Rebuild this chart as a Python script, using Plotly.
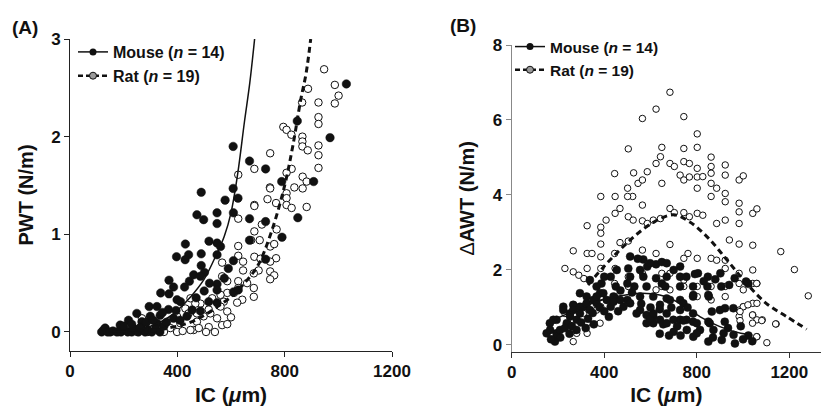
import plotly.graph_objects as go

# ---------------- Panel A : PWT vs IC ----------------
mouse_a_x = [1030, 847, 969, 608, 669, 729, 489, 608, 578, 626, 789, 908, 473, 498, 548, 548, 609, 669, 729, 849,
             790, 669, 518, 548, 561, 430, 397, 442, 489, 429, 548, 609, 729, 489, 461, 501, 486, 445, 369, 386,
             427, 548, 548, 609, 627, 338, 369, 399, 412, 295, 324, 367, 486, 517, 548, 455, 218, 187, 268, 299,
             336, 249, 324, 386, 436, 118, 125, 131, 140, 150, 160, 175, 190, 200, 215, 230, 240, 255, 265, 280,
             290, 305, 320, 335, 350, 200, 230, 260, 285, 310, 345, 360, 395, 410, 470, 500, 520, 575, 590]
mouse_a_y = [2.54, 2.16, 1.99, 1.90, 1.75, 1.67, 1.43, 1.47, 1.35, 1.37, 1.54, 1.54, 1.20, 1.15, 1.22, 1.11, 1.22, 1.16, 1.13, 1.17,
             0.97, 0.94, 0.93, 0.91, 0.875, 0.90, 0.77, 0.79, 0.80, 0.74, 0.79, 0.73, 0.745, 0.68, 0.585, 0.61, 0.57, 0.52, 0.53, 0.46,
             0.46, 0.49, 0.43, 0.41, 0.43, 0.40, 0.39, 0.33, 0.31, 0.26, 0.26, 0.23, 0.215, 0.31, 0.30, 0.225, 0.12, 0.07, 0.105, 0.16,
             0.17, 0.19, 0.09, 0.14, 0.16, 0.0, 0.02, 0.04, 0.0, 0.0, 0.01, 0.0, 0.0, 0.02, 0.0, 0.0, 0.03, 0.0, 0.05, 0.0,
             0.02, 0.0, 0.03, 0.0, 0.06, 0.06, 0.08, 0.04, 0.10, 0.12, 0.20, 0.10, 0.22, 0.12, 0.35, 0.42, 0.50, 0.55, 0.65]

rat_a_x = [947, 987, 1001, 987, 926, 887, 865, 926, 926, 795, 807, 825, 866, 866, 866, 886, 926, 926, 926, 746,
           687, 627, 826, 807, 867, 882, 867, 836, 745, 736, 807, 807, 768, 807, 687, 882, 826, 746, 687, 627,
           687, 675, 707, 746, 761, 627, 627, 687, 645, 768, 746, 567, 645, 703, 746, 761, 746, 685, 567, 586,
           627, 685, 685, 627, 611, 586, 642, 623, 573, 561, 586, 548, 567, 586, 517, 507, 461, 473, 523, 530,
           561, 486, 449, 467, 430, 442, 399, 411, 374, 336, 268, 231, 305, 449, 498, 517, 473, 324, 206, 399,
           180, 250, 290, 350, 420, 480, 540, 600, 660, 710, 715, 770]
rat_a_y = [2.69, 2.53, 2.42, 2.34, 2.35, 2.49, 2.35, 2.20, 2.13, 2.10, 2.07, 2.02, 2.00, 1.95, 1.90, 1.86, 1.91, 1.81, 1.68, 1.83,
           1.67, 1.61, 1.67, 1.63, 1.59, 1.54, 1.47, 1.48, 1.48, 1.36, 1.42, 1.37, 1.32, 1.30, 1.30, 1.28, 1.27, 1.47, 1.29, 1.16,
           1.03, 0.94, 0.94, 0.875, 0.90, 0.88, 0.78, 0.77, 0.72, 0.755, 0.72, 0.71, 0.63, 0.63, 0.62, 0.58, 0.54, 0.60, 0.57, 0.52,
           0.52, 0.45, 0.36, 0.45, 0.40, 0.40, 0.33, 0.30, 0.31, 0.26, 0.21, 0.14, 0.07, 0.08, 0.05, 0.0, 0.02, 0.105, 0.19, 0.345,
           0.38, 0.29, 0.345, 0.29, 0.24, 0.19, 0.16, 0.09, 0.04, 0.02, 0.14, 0.055, 0.02, 0.02, 0.16, 0.23, 0.19, 0.05, 0.02, 0.0,
           0.0, 0.0, 0.0, 0.0, 0.01, 0.04, 0.0, 0.15, 0.50, 0.75, 1.10, 1.05]

fit_mouse_a_x = [150, 250, 300, 350, 400, 450, 500, 550, 575, 600, 625, 650, 670, 688]
fit_mouse_a_y = [0.0, 0.02, 0.06, 0.12, 0.22, 0.36, 0.54, 0.82, 0.98, 1.22, 1.62, 2.15, 2.55, 3.0]
fit_rat_a_x = [300, 400, 450, 500, 550, 600, 650, 700, 750, 800, 830, 860, 880, 897]
fit_rat_a_y = [0.01, 0.06, 0.10, 0.17, 0.26, 0.36, 0.50, 0.68, 1.02, 1.50, 1.90, 2.38, 2.65, 3.0]

# ---------------- Panel B : dAWT vs IC ----------------
mouse_b_x = [512, 569, 586, 624, 649, 728, 454, 504, 428, 388, 400, 450, 500, 530, 569, 583, 624, 649, 670, 728,
             755, 805, 848, 902, 964, 1013, 906, 846, 784, 728, 664, 852, 784, 728, 670, 612, 555, 500, 440, 382,
             324, 295, 367, 338, 428, 367, 310, 266, 223, 252, 295, 555, 583, 612, 670, 728, 784, 900, 958, 728,
             784, 856, 921, 612, 641, 583, 194, 165, 151, 194, 180, 166, 194, 187, 223, 238, 252, 266, 281, 209,
             295, 324, 338, 353, 367, 396, 411, 440, 469, 483, 512, 540, 598, 612, 655, 670, 699, 715, 756, 641,
             684, 742, 512, 555, 598, 545, 670, 700, 792, 830, 880, 940, 1023, 785, 850, 760, 865, 922, 742, 800,
             850, 935, 757, 814, 872, 916, 959, 1023, 785, 850, 908, 965, 800, 870, 230, 260, 300, 330, 350, 400,
             420, 460, 250, 280, 210, 170, 320, 355, 380, 470, 520, 560, 600, 640, 690, 700, 730, 680, 640, 990,
             1000, 1040]
mouse_b_y = [2.36, 2.28, 2.09, 2.15, 2.21, 2.09, 2.00, 2.04, 1.82, 1.64, 1.82, 1.56, 1.64, 1.56, 1.82, 1.56, 1.78, 1.64, 1.82, 1.82,
             1.82, 1.91, 1.82, 1.91, 1.78, 1.69, 1.56, 1.56, 1.56, 1.56, 1.56, 1.29, 1.29, 1.20, 1.24, 1.29, 1.29, 1.20, 1.29, 1.38,
             1.29, 1.38, 1.56, 1.73, 1.02, 1.11, 1.02, 1.07, 1.02, 0.84, 0.84, 0.93, 0.80, 0.76, 0.84, 0.93, 0.84, 0.93, 0.98, 0.67,
             0.62, 0.58, 0.62, 0.58, 0.67, 0.58, 0.67, 0.58, 0.31, 0.31, 0.67, 0.40, 0.22, 0.09, 0.93, 0.58, 0.76, 0.93, 0.67, 0.40,
             1.02, 1.11, 0.93, 1.20, 1.29, 1.38, 1.20, 1.15, 1.20, 1.02, 1.11, 0.84, 0.70, 0.84, 0.55, 0.58, 0.67, 0.50, 0.67, 1.07,
             1.20, 1.11, 1.82, 2.00, 2.18, 2.30, 2.18, 2.00, 1.89, 1.70, 1.75, 1.60, 1.63, 1.33, 1.33, 1.00, 0.89, 0.98, 0.65, 0.58,
             0.62, 0.45, 0.40, 0.40, 0.40, 0.31, 0.27, 0.25, 0.22, 0.09, 0.13, 0.04, 0.31, 0.20, 0.45, 0.50, 0.60, 0.70, 0.85, 0.90,
             0.75, 0.90, 0.30, 0.40, 0.20, 0.15, 0.45, 0.55, 1.00, 1.45, 1.40, 1.10, 1.00, 0.95, 1.00, 0.35, 0.25, 0.25, 0.30, 0.50,
             0.15, 0.10]

rat_b_x = [684, 624, 565, 744, 802, 504, 649, 744, 802, 862, 643, 624, 586, 546, 565, 445, 527, 649, 684, 703,
           744, 768, 728, 744, 768, 802, 802, 826, 802, 862, 862, 862, 862, 886, 923, 923, 923, 923, 983, 1001,
           983, 983, 1042, 1060, 983, 923, 886, 1042, 983, 941, 1163, 1222, 1282, 1143, 447, 501, 523, 501, 468, 504,
           525, 447, 408, 385, 326, 385, 565, 565, 586, 612, 643, 684, 703, 744, 768, 802, 826, 684, 565, 504,
           468, 445, 385, 385, 266, 326, 347, 230, 326, 266, 290, 312, 385, 385, 447, 624, 744, 762, 802, 862,
           886, 923, 923, 983, 1042, 1042, 1060, 983, 1042, 1001, 1042, 1060, 1083, 1060, 983, 983, 802, 802, 862, 862,
           923, 923, 744, 744, 684, 649, 624, 649, 684, 565, 504, 504, 445, 445, 385, 385, 326, 326, 266, 266,
           326, 281, 230, 1103, 1059, 1041, 1081, 1141, 1001, 1021, 1060, 1041, 987, 987, 1059, 1001, 266, 266, 382, 367,
           310]
rat_b_y = [6.74, 6.29, 6.04, 6.09, 5.63, 5.23, 5.27, 5.24, 5.27, 5.01, 5.02, 4.84, 4.62, 4.31, 4.40, 4.57, 4.59, 4.31, 4.84, 4.76,
           4.89, 4.84, 4.53, 4.40, 4.48, 4.71, 4.48, 4.49, 4.18, 4.76, 4.58, 4.31, 3.96, 4.18, 4.80, 4.53, 4.04, 3.82, 4.40, 4.51,
           3.78, 3.55, 3.51, 3.63, 3.24, 3.33, 3.24, 2.66, 2.69, 2.80, 2.49, 2.01, 1.31, 0.56, 3.96, 4.18, 3.96, 3.96, 3.64, 3.42,
           3.33, 3.51, 3.33, 3.14, 3.18, 3.96, 3.73, 3.31, 3.24, 3.33, 3.37, 3.64, 3.53, 3.53, 3.42, 3.51, 3.46, 2.68, 2.53, 2.77,
           2.73, 2.44, 2.98, 2.69, 2.51, 2.44, 2.44, 2.04, 2.04, 1.95, 1.86, 1.77, 2.35, 2.04, 2.04, 2.44, 2.31, 2.44, 2.31, 2.31,
           2.26, 2.26, 2.04, 1.91, 2.00, 1.64, 1.64, 1.64, 1.11, 1.02, 0.80, 0.67, 0.67, 0.22, 0.93, 0.76, 1.56, 1.29, 1.56, 1.20,
           1.56, 1.29, 1.73, 1.56, 1.47, 1.56, 1.47, 1.91, 1.91, 1.91, 1.82, 1.56, 1.64, 1.29, 1.29, 1.02, 1.02, 0.58, 1.07, 0.67,
           0.31, 0.31, 0.84, 0.06, 0.22, 0.58, 0.65, 0.56, 1.02, 1.07, 1.11, 0.80, 0.89, 0.65, 1.64, 1.47, 0.09, 0.38, 0.58, 0.93,
           0.84]

fit_mouse_b_x = [150, 200, 280, 370, 470, 555, 640, 730, 815, 900, 990, 1040]
fit_mouse_b_y = [0.55, 0.72, 0.93, 1.16, 1.31, 1.38, 1.33, 1.10, 0.75, 0.49, 0.31, 0.27]
fit_rat_b_x = [330, 400, 470, 540, 620, 700, 770, 850, 930, 1010, 1100, 1190, 1275]
fit_rat_b_y = [1.60, 2.10, 2.55, 2.95, 3.30, 3.47, 3.28, 2.85, 2.27, 1.68, 1.11, 0.75, 0.42]

xticks = [0, 400, 800, 1200]
yticks_a = [0, 1, 2, 3]
yticks_b = [0, 2, 4, 6, 8]

INK = "#111111"
FONT = "Liberation Sans, Arial, sans-serif"

fig = go.Figure()


def add_panel(xa, ya, leg, mx, my, rx, ry, fmx, fmy, frx, fry, fsize, osize):
    fig.add_trace(go.Scatter(x=rx, y=ry, mode="markers", xaxis=xa, yaxis=ya, showlegend=False,
                             marker=dict(symbol="circle", size=osize, color="white",
                                         line=dict(color=INK, width=1))))
    fig.add_trace(go.Scatter(x=mx, y=my, mode="markers", xaxis=xa, yaxis=ya, showlegend=False,
                             marker=dict(symbol="circle", size=fsize, color=INK,
                                         line=dict(color=INK, width=0.5))))
    fig.add_trace(go.Scatter(x=fmx, y=fmy, mode="lines", xaxis=xa, yaxis=ya, showlegend=False,
                             line=dict(color=INK, width=1.5, shape="spline")))
    fig.add_trace(go.Scatter(x=frx, y=fry, mode="lines", xaxis=xa, yaxis=ya, showlegend=False,
                             line=dict(color=INK, width=3, dash="6px,4px", shape="spline")))
    # legend entries
    fig.add_trace(go.Scatter(x=[None], y=[None], mode="lines+markers", xaxis=xa, yaxis=ya,
                             name="<b>Mouse (<i>n</i> = 14)</b>", legend=leg,
                             line=dict(color=INK, width=1.5),
                             marker=dict(size=7, color=INK)))
    fig.add_trace(go.Scatter(x=[None], y=[None], mode="lines+markers", xaxis=xa, yaxis=ya,
                             name="<b>Rat (<i>n</i> = 19)</b>", legend=leg,
                             line=dict(color=INK, width=2.5, dash="5px,3px"),
                             marker=dict(size=7, color="#9a9a9a", line=dict(color=INK, width=1))))


add_panel("x", "y", "legend", mouse_a_x, mouse_a_y, rat_a_x, rat_a_y,
          fit_mouse_a_x, fit_mouse_a_y, fit_rat_a_x, fit_rat_a_y, 8.5, 7.5)
add_panel("x2", "y2", "legend2", mouse_b_x, mouse_b_y, rat_b_x, rat_b_y,
          fit_mouse_b_x, fit_mouse_b_y, fit_rat_b_x, fit_rat_b_y, 8, 6.5)

W, H = 822, 410


def px_x(p):
    return p / W


def px_y(p):
    return 1 - p / H


tickfont = dict(family=FONT, size=17, color=INK, weight="bold")
titlefont = dict(family=FONT, size=20, color=INK)
legfont = dict(family=FONT, size=16, color=INK)

common_x = dict(showgrid=False, zeroline=False, showline=True, ticks="outside", ticklen=5,
                tickwidth=1, tickfont=tickfont, tickvals=xticks, fixedrange=True, automargin=False)
common_y = dict(showgrid=False, zeroline=False, showline=True, ticks="outside", ticklen=5,
                tickwidth=1, tickfont=tickfont, fixedrange=True, automargin=False)

fig.update_layout(
    width=W, height=H,
    margin=dict(l=0, r=0, t=0, b=0, autoexpand=False),
    paper_bgcolor="white", plot_bgcolor="white",
    font=dict(family=FONT, color=INK),
    hovermode=False,
    xaxis=dict(**common_x, domain=[px_x(70), px_x(392)], range=[0, 1200], anchor="y",
               linecolor="#222", tickcolor="#222",
               title=dict(text="<b>IC (<i>μ</i>m)</b>", font=dict(family=FONT, size=21, color=INK), standoff=6)),
    yaxis=dict(**common_y, tickvals=yticks_a, domain=[px_y(351), px_y(39)], range=[-0.195, 3],
               anchor="x", linecolor="#222", tickcolor="#222",
               title=dict(text="<b>PWT (N/m)</b>", font=titlefont, standoff=12)),
    xaxis2=dict(**common_x, domain=[px_x(511.7), px_x(821)], range=[0, 1337], anchor="y2",
                linecolor="#333", tickcolor="#333",
                title=dict(text="<b>IC (<i>μ</i>m)</b>", font=dict(family=FONT, size=21, color=INK), standoff=6)),
    yaxis2=dict(**common_y, tickvals=yticks_b, domain=[px_y(351.7), px_y(45)], range=[-0.18, 8],
                anchor="x2", linecolor="#888", tickcolor="#888",
                title=dict(text="Δ<b>AWT (N/m)</b>", font=titlefont, standoff=12)),
    legend=dict(x=px_x(73), y=px_y(35), xanchor="left", yanchor="top", bgcolor="rgba(0,0,0,0)",
                font=legfont, itemwidth=30, traceorder="normal"),
    legend2=dict(x=px_x(510), y=px_y(30), xanchor="left", yanchor="top", bgcolor="rgba(0,0,0,0)",
                 font=dict(family=FONT, size=15.5, color=INK), itemwidth=30, traceorder="normal"),
    annotations=[
        dict(text="<b>(A)</b>", x=px_x(10), y=px_y(27), xref="paper", yref="paper", xanchor="left",
             yanchor="middle", showarrow=False, font=dict(family=FONT, size=19, color=INK)),
        dict(text="<b>(B)</b>", x=px_x(448), y=px_y(25), xref="paper", yref="paper", xanchor="left",
             yanchor="middle", showarrow=False, font=dict(family=FONT, size=19, color=INK)),
    ],
)

fig.write_html("out.html", config={"displayModeBar": False, "staticPlot": True},
               post_script="document.body.style.margin='0';document.body.style.overflow='hidden';")
